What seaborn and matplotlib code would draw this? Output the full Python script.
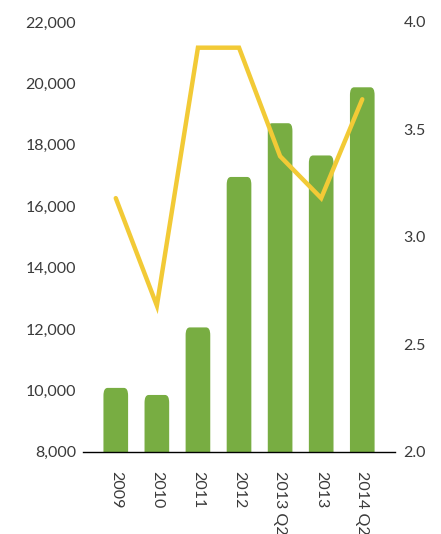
import seaborn as sns
import matplotlib.pyplot as plt
from matplotlib.patches import FancyBboxPatch

periodi = ["2009", "2010", "2011", "2012", "2013 Q2", "2013", "2014 Q2"]
barre = [10080, 9850, 12050, 16950, 18700, 17650, 19870]
linea = [3.18, 2.68, 3.88, 3.88, 3.375, 3.18, 3.64]

verde = "#78ad42"
giallo = "#f2ca36"
testo = "#3a3a3a"

sns.set_style("white")
plt.rcParams['font.family'] = ['Lato', 'DejaVu Sans']

fig = plt.figure(figsize=(4.41, 5.34), dpi=100)
ax = fig.add_axes([0.188, 0.154, 0.708, 0.805])

sns.barplot(x=periodi, y=barre, color=verde, width=0.6, ax=ax, saturation=1)

# tetti arrotondati
for p in list(ax.patches):
    x, w, h = p.get_x(), p.get_width(), p.get_height()
    p.remove()
    ax.add_patch(FancyBboxPatch((x, 7000), w, h - 7000,
                                boxstyle="round,pad=0,rounding_size=0.1",
                                mutation_aspect=2500, color=verde, lw=0, zorder=2))

ax.set_ylim(8000, 22000)
ax.set_yticks(range(8000, 22001, 2000))
ax.set_yticklabels([f"{v:,}" for v in range(8000, 22001, 2000)])

ax2 = ax.twinx()
sns.pointplot(x=periodi, y=linea, color=giallo, ax=ax2, markersize=0,
              linewidth=3.2)
for l in ax2.lines:
    l.set_solid_capstyle("round")
    l.set_solid_joinstyle("miter")
ax2.set_ylim(2.0, 4.0)
ax2.set_yticks([2.0, 2.5, 3.0, 3.5, 4.0])
ax2.set_yticklabels(["2.0", "2.5", "3.0", "3.5", "4.0"])

for a in (ax, ax2):
    a.set_xlim(-0.8, 6.8)
    for s in a.spines.values():
        s.set_visible(False)
    a.tick_params(length=0, labelsize=11.5, labelcolor=testo)
    a.grid(False)
    a.set_xlabel("")
    a.set_ylabel("")

ax.spines["bottom"].set_visible(True)
ax.spines["bottom"].set_color("black")
ax.spines["bottom"].set_linewidth(1)
ax.spines["bottom"].set_zorder(5)
ax.tick_params(axis="x", labelrotation=-90, pad=14)
ax.tick_params(axis="y", pad=5)
ax2.tick_params(axis="y", pad=6)
for t in ax.get_xticklabels():
    t.set_va("top")

fig.savefig("out.png", dpi=100)
